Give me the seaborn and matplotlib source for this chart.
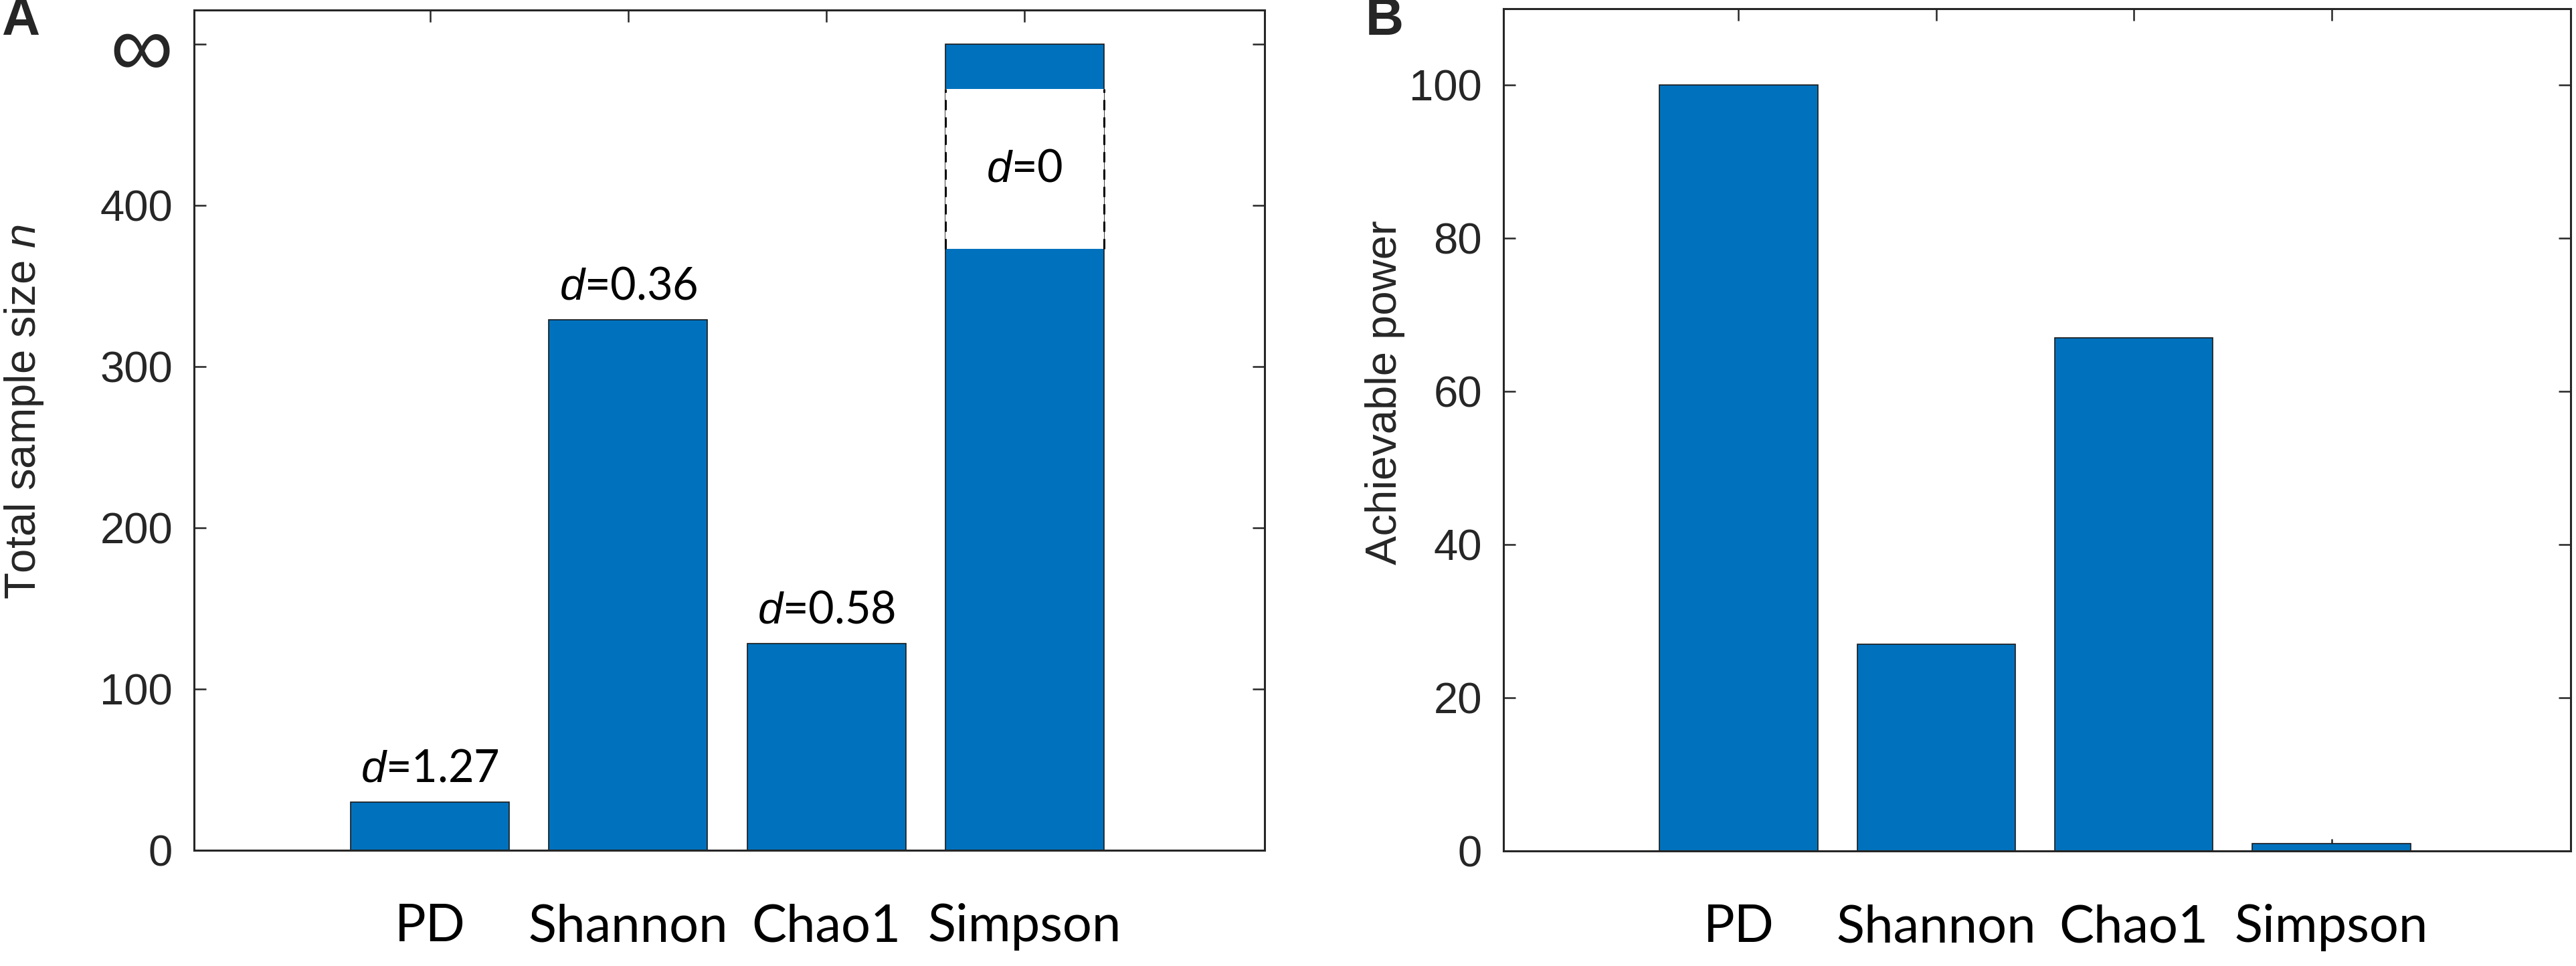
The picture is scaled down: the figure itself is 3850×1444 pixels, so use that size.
import matplotlib
matplotlib.use("Agg")
import matplotlib.pyplot as plt
from matplotlib.patches import Rectangle
import seaborn as sns
import pandas as pd

# ---------------- data ----------------
categories = ["PD", "Shannon", "Chao1", "Simpson"]
sample_size = [30, 329, 128, 500]          # Simpson = infinity (drawn at top tick)
effect_labels = ["1.27", "0.36", "0.58", "0"]
simpson_break = [373, 472]                  # white gap in the Simpson bar
power = [100, 27, 67, 1]

yticks_a = [0, 100, 200, 300, 400, 500]
yticklabels_a = ["0", "100", "200", "300", "400", "\u221e"]
yticks_b = [0, 20, 40, 60, 80, 100]

BAR = "#0072BD"
AXC = "#262626"
HELV = ["Liberation Sans", "DejaVu Sans"]
CALI = ["Lato", "DejaVu Sans"]

sns.set_theme(style="white")
plt.rcParams["font.family"] = CALI
plt.rcParams["mathtext.fontset"] = "custom"
plt.rcParams["mathtext.rm"] = "Liberation Sans"
plt.rcParams["mathtext.it"] = "Liberation Sans:italic"

W, H = 3850, 1444
fig = plt.figure(figsize=(W / 100, H / 100), dpi=100)
fig.patch.set_facecolor("white")

axA = fig.add_axes([290 / W, 1 - 1271 / H, 1600 / W, (1271 - 15) / H])
axB = fig.add_axes([2247 / W, 1 - 1272 / H, 1595 / W, (1272 - 13) / H])

dfA = pd.DataFrame({"cat": categories, "val": sample_size})
dfB = pd.DataFrame({"cat": categories, "val": power})

for ax, df in ((axA, dfA), (axB, dfB)):
    sns.barplot(data=df, x="cat", y="val", ax=ax, color=BAR, saturation=1,
                width=0.8, edgecolor="#1a1a1a", linewidth=1.2, zorder=2)
    ax.set_xlim(-1.19, 4.21)
    ax.set_xlabel("")
    for s in ax.spines.values():
        s.set_visible(True)
        s.set_color(AXC)
        s.set_linewidth(2.2)
        s.set_zorder(3)
    ax.tick_params(axis="both", direction="in", length=13, width=1.8,
                   color=AXC, top=True, right=True, bottom=True, left=True)
    ax.tick_params(axis="x", pad=57, labelsize=56, labelcolor="black")
    ax.tick_params(axis="y", pad=23, labelsize=47, labelcolor=AXC)
    ax.grid(False)

# ---- panel A ----
axA.set_ylim(0, 521)
axA.set_yticks(yticks_a)
axA.set_yticklabels(yticklabels_a, family=HELV)
axA.get_yticklabels()[-1].set_fontsize(95)
axA.set_ylabel("Total sample size $n$", fontsize=47, color=AXC, family=HELV)
axA.yaxis.label.set_va("center")
axA.yaxis.set_label_coords(-0.159, 0.522)

bars = axA.patches
simp = bars[3]
x0, w = simp.get_x(), simp.get_width()
axA.add_patch(Rectangle((x0, simpson_break[0]), w, simpson_break[1] - simpson_break[0],
                        facecolor="white", edgecolor="none", zorder=2.5))
for xx in (x0, x0 + w):
    axA.plot([xx, xx], simpson_break, ls=(0, (5, 3.5)), color="black", lw=2.2, zorder=2.6)

for i, (b, lab) in enumerate(zip(bars, effect_labels)):
    cx = b.get_x() + b.get_width() / 2
    if i == 3:
        axA.text(cx, (simpson_break[0] + simpson_break[1]) / 2, f"$d$={lab}",
                 ha="center", va="center", fontsize=48, color="black", zorder=4)
    else:
        axA.annotate(f"$d$={lab}", (cx, b.get_height()), xytext=(0, 22),
                     textcoords="offset points", ha="center", va="baseline",
                     fontsize=48, color="black", zorder=4)

# ---- panel B ----
axB.set_ylim(0, 110)
axB.set_yticks(yticks_b)
axB.set_yticklabels([str(t) for t in yticks_b], family=HELV)
axB.set_ylabel("Achievable power", fontsize=47, color=AXC, family=HELV)
axB.yaxis.label.set_va("center")
axB.yaxis.set_label_coords(-0.111, 0.544)

# panel letters
fig.text(31 / W, 1 - 32 / H, "A", ha="center", va="center", fontsize=57,
         fontweight="bold", family=HELV)
fig.text(2069 / W, 1 - 32 / H, "B", ha="center", va="center", fontsize=57,
         fontweight="bold", family=HELV)

fig.savefig("out.png", dpi=100, facecolor="white")
